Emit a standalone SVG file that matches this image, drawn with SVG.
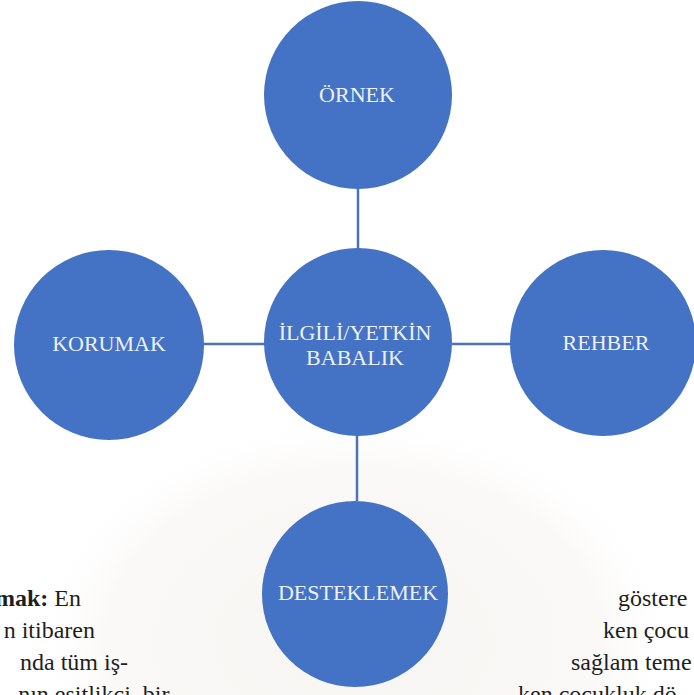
<svg xmlns="http://www.w3.org/2000/svg" width="694" height="695" viewBox="0 0 694 695">
<defs>
<radialGradient id="shade" cx="355" cy="640" r="330" gradientUnits="userSpaceOnUse" gradientTransform="translate(355 640) scale(1 0.7) translate(-355 -640)">
<stop offset="0" stop-color="#f6f5f2"/>
<stop offset="0.75" stop-color="#faf9f7"/>
<stop offset="1" stop-color="#ffffff" stop-opacity="0"/>
</radialGradient>
</defs>
<style>
.node{fill:#4472C4;}
.lbl{font-family:"Liberation Serif","Times New Roman",serif;font-size:22px;fill:#eef1f7;text-anchor:middle;}
.edge{stroke:#4d72b8;stroke-width:2.5;fill:none;}
.body{font-family:"Liberation Serif","Times New Roman",serif;font-size:24px;fill:#1e1e1e;}
</style>
<rect width="694" height="695" fill="#ffffff"/>
<rect x="0" y="380" width="694" height="315" fill="url(#shade)"/>
<g id="page-text">
<text class="body" x="81" y="606" text-anchor="end"><tspan font-weight="bold">mak:</tspan> En</text>
<text class="body" x="95" y="638" text-anchor="end">n itibaren</text>
<text class="body" x="128" y="670" text-anchor="end">nda tüm iş-</text>
<text class="body" x="177" y="702" text-anchor="end">nın eşitlikçi, bir-</text>
<text class="body" x="618" y="606">göstere</text>
<text class="body" x="603" y="638">ken çocu</text>
<text class="body" x="571" y="670">sağlam teme</text>
<text class="body" x="518" y="702">ken çocukluk dö</text>
</g>
<g id="connectors">
<line class="edge" x1="358" y1="186" x2="358" y2="250"/>
<line class="edge" x1="203" y1="344" x2="265" y2="344"/>
<line class="edge" x1="452" y1="344" x2="511" y2="344"/>
<line class="edge" x1="357" y1="434" x2="357" y2="501"/>
</g>
<g id="node-ornek">
<circle class="node" cx="358" cy="95" r="94"/>
<text class="lbl" x="357" y="102">ÖRNEK</text>
</g>
<g id="node-center">
<circle class="node" cx="358" cy="342" r="94"/>
<text class="lbl" x="355" y="340">İLGİLİ/YETKİN</text>
<text class="lbl" x="355" y="365">BABALIK</text>
</g>
<g id="node-korumak">
<circle class="node" cx="109" cy="345" r="95"/>
<text class="lbl" x="109" y="351">KORUMAK</text>
</g>
<g id="node-rehber">
<circle class="node" cx="603" cy="343" r="93"/>
<text class="lbl" x="606" y="350">REHBER</text>
</g>
<g id="node-desteklemek">
<circle class="node" cx="355" cy="594" r="93"/>
<text class="lbl" x="358" y="600">DESTEKLEMEK</text>
</g>
</svg>
